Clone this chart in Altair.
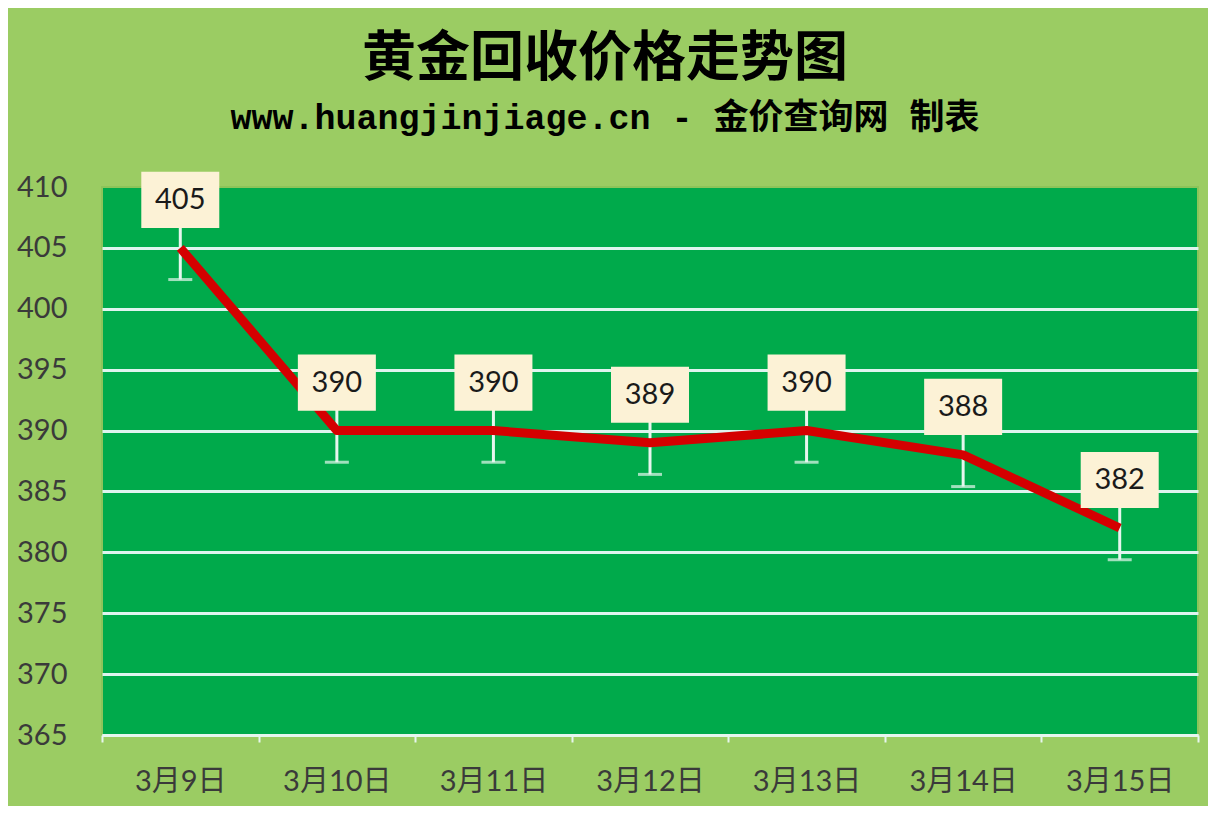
import altair as alt
import pandas as pd

dates = ["3月9日", "3月10日", "3月11日", "3月12日", "3月13日", "3月14日", "3月15日"]
prices = [405, 390, 390, 389, 390, 388, 382]
errs = [2.6, 2.6, 2.6, 2.6, 2.6, 2.6, 2.6]
y_ticks = [365, 370, 375, 380, 385, 390, 395, 400, 405, 410]

df = pd.DataFrame({"date": dates, "price": prices, "err": errs})
df["low"] = df["price"] - df["err"]
df["high"] = df["price"] + df["err"]

LABEL_FONT = "Lato, 'Noto Sans CJK SC', sans-serif"
ROW = 48

x = alt.X(
    "date:N",
    sort=dates,
    scale=alt.Scale(paddingInner=0, paddingOuter=0),
    axis=alt.Axis(
        title=None,
        labelAngle=0,
        labelFont=LABEL_FONT,
        labelFontSize=29,
        labelColor="#3a3a3a",
        labelPadding=25,
        tickBand="extent",
        tickSize=7,
        tickColor="#e6f6ee",
        tickWidth=2,
        domainColor="#e6f6ee",
        domainWidth=3,
        grid=False,
    ),
)

y_scale = alt.Scale(domain=[365, 410], nice=False, zero=False)

base = alt.Chart(df)

y_axis = alt.Axis(
    title=None,
    values=y_ticks,
    labelFont=LABEL_FONT,
    labelFontSize=29,
    labelColor="#3a3a3a",
    labelPadding=35,
    ticks=False,
    tickSize=0,
    domain=False,
    grid=True,
    gridColor="#dff4ef",
    gridWidth=3,
    gridOpacity=alt.condition(alt.datum.value == 410, alt.value(0), alt.value(1)),
)

err_rule = base.mark_rule(color="#e6f6ee", strokeWidth=3).encode(
    x=x,
    y=alt.Y("low:Q", scale=y_scale, axis=y_axis),
    y2="high:Q",
)

err_cap = base.mark_tick(color="#e6f6ee", thickness=3, size=24).encode(
    x=x,
    y=alt.Y("low:Q", scale=y_scale),
)

line = base.mark_line(color="#d40000", strokeWidth=9, strokeJoin="round").encode(
    x=x,
    y=alt.Y("price:Q", scale=y_scale),
)

box = base.mark_point(
    shape="M-1,-0.72L1,-0.72L1,0.72L-1,0.72Z",
    filled=True,
    opacity=1,
    color="#fcf2d6",
    size=78 * 78,
    yOffset=-ROW,
).encode(
    x=x,
    y=alt.Y("price:Q", scale=y_scale),
)

labels = base.mark_text(
    font=LABEL_FONT,
    fontSize=29,
    color="#1a1a1a",
    yOffset=-ROW,
    baseline="middle",
    align="center",
).encode(
    x=x,
    y=alt.Y("price:Q", scale=y_scale),
    text="price:Q",
)

chart = (
    alt.layer(err_rule, err_cap, line, box, labels)
    .properties(
        width=1096,
        height=548,
        autosize=alt.AutoSizeParams(type="none"),
        padding={"left": 94, "top": 179, "right": 10, "bottom": 71},
        background="#9bcc63",
        title=alt.TitleParams(
            text="黄金回收价格走势图",
            subtitle="www.huangjinjiage.cn - 金价查询网 制表",
            anchor="middle",
            font="'Noto Sans CJK SC', sans-serif",
            fontSize=54,
            fontWeight="bold",
            color="#000000",
            subtitleFont="'Liberation Mono', 'Noto Sans CJK SC', monospace",
            subtitleFontSize=35,
            subtitleFontWeight="bold",
            subtitleColor="#000000",
            subtitlePadding=14,
            offset=36,
            dx=-45,
        ),
    )
    .configure_view(fill="#00aa4b", stroke="#8cc45a", strokeWidth=2)
)

chart.save("out.html", embed_options={"renderer": "svg", "actions": False})
